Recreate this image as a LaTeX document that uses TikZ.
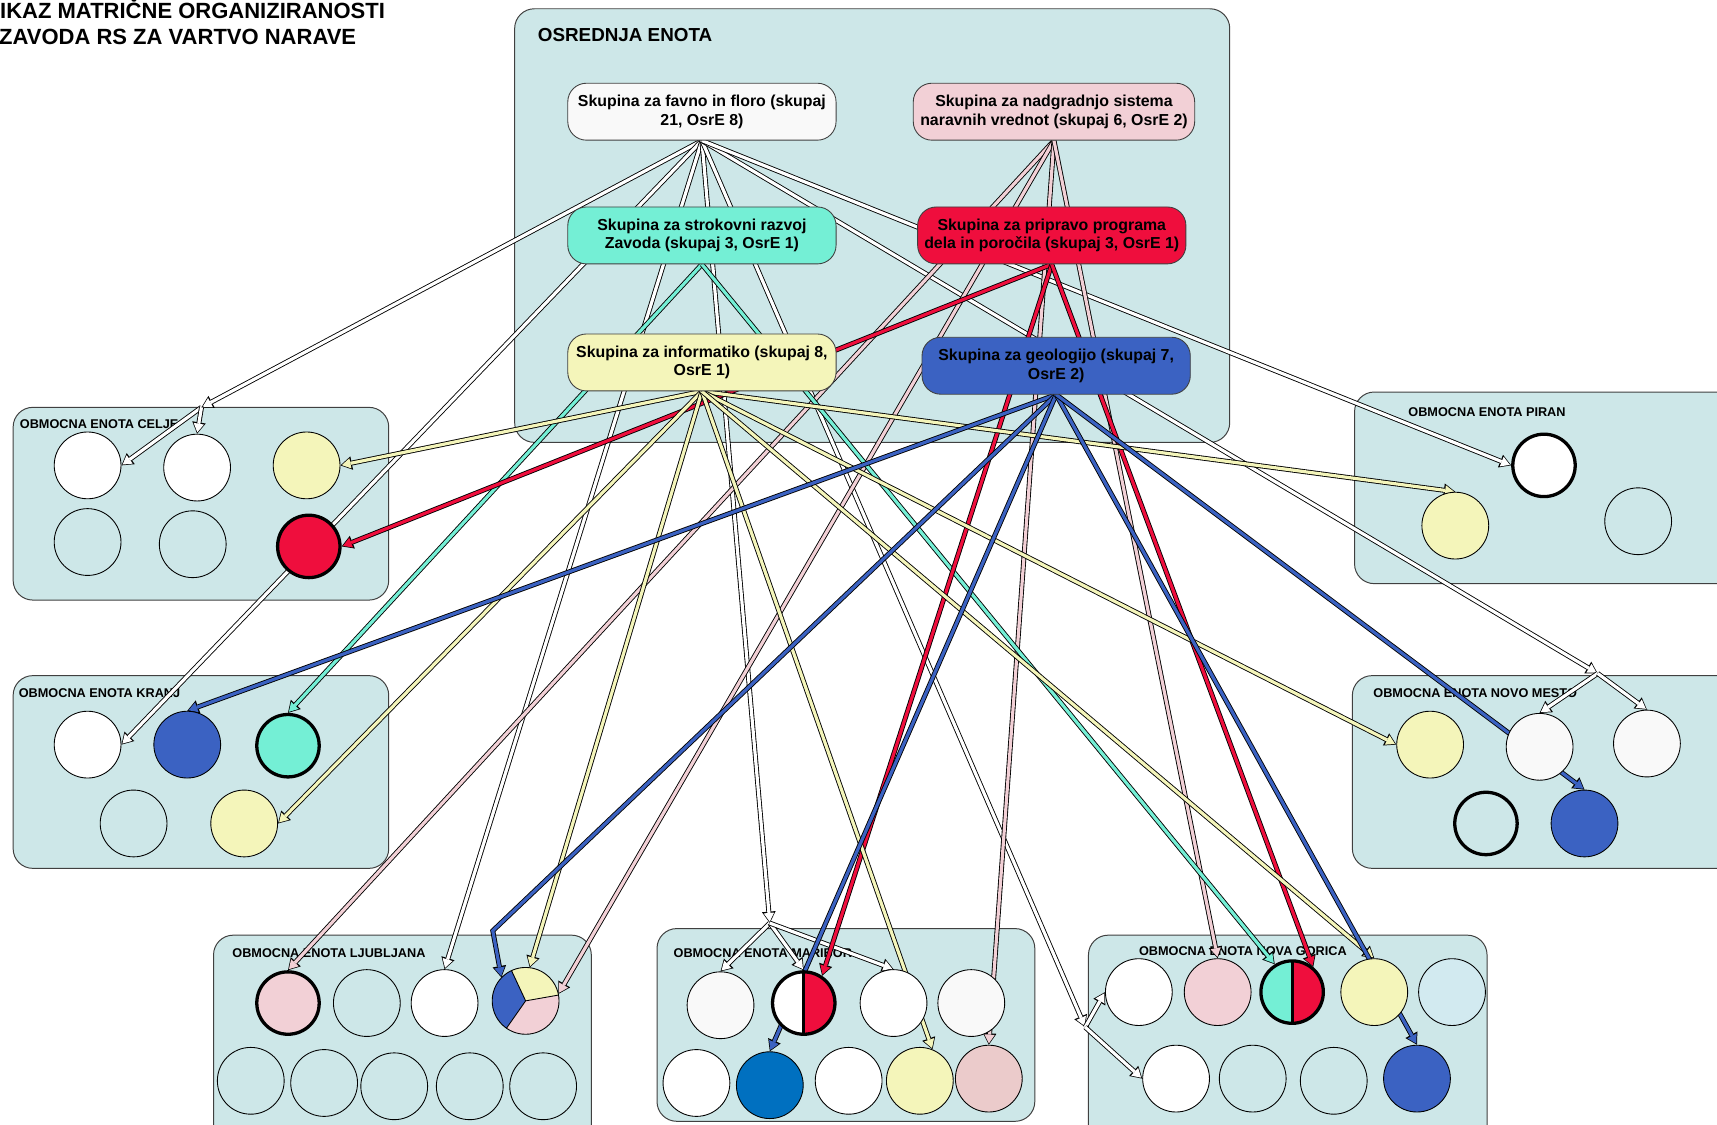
\documentclass[tikz,border=0pt]{standalone}
\usepackage{fontspec}
\setmainfont{Liberation Sans}
\usetikzlibrary{arrows.meta}
\pgfdeclarelayer{bg}
\pgfdeclarelayer{lines}
\pgfsetlayers{bg,lines,main}
\definecolor{regfill}{HTML}{CDE7E8}
\definecolor{coff}{HTML}{F9F9F9}
\definecolor{cyel}{HTML}{F4F5BA}
\definecolor{cred}{HTML}{EF0E3D}
\definecolor{caqua}{HTML}{74EFD5}
\definecolor{cblue}{HTML}{3B62C2}
\definecolor{cpink}{HTML}{F2D0D6}
\definecolor{cdblue}{HTML}{0070C0}
\definecolor{cpinkb}{HTML}{EBCBCB}
\definecolor{clblue}{HTML}{D2EAF0}
\definecolor{edgec}{HTML}{404040}
\tikzset{
  region/.style={draw=edgec, line width=0.9pt, fill=regfill, rounded corners=18pt},
  reglabel/.style={anchor=west, inner sep=0pt, font=\fontsize{11.6}{13}\selectfont\bfseries},
  group/.style={draw=edgec, line width=0.8pt, fill=#1, rounded corners=17pt, minimum width=245pt,
    minimum height=52pt, align=center, inner sep=2pt, font=\fontsize{14.5}{17}\selectfont\bfseries},
  unit/.style={circle, draw=black, line width=0.8pt, fill=#1, minimum size=61pt, inner sep=0pt},
  unitk/.style={circle, draw=black, line width=3pt, fill=#1, minimum size=57pt, inner sep=0pt},
  unitx/.style={circle, draw=none, minimum size=57pt, inner sep=0pt, outer sep=1.5pt},
  conn/.style={draw=#1, line width=2.9pt, shorten >=1.3pt,
    -{Triangle[length=8pt,width=9.5pt,line width=0pt]},
    preaction={draw=black, line width=4.5pt, shorten >=0pt,
      -{Triangle[length=10.5pt,width=12.5pt,line width=0pt]}}},
}
\begin{document}
\begin{tikzpicture}[x=1pt, y=-1pt]
\useasboundingbox (0,0) rectangle (1568,1027);

% ---------- title ----------
\node[anchor=base west, inner sep=0pt, font=\fontsize{20.1}{24}\selectfont\bfseries] (title1) at (0,17) {IKAZ MATRIČNE ORGANIZIRANOSTI};
\node[anchor=base west, inner sep=0pt, font=\fontsize{20.1}{24}\selectfont\bfseries] (title2) at (-1,41) {ZAVODA RS ZA VARTVO NARAVE};

% ---------- backgrounds ----------
\begin{pgfonlayer}{bg}
\draw[region] (470,8) rectangle (1123,404);
\node[anchor=west, inner sep=0pt, font=\fontsize{17.2}{20}\selectfont\bfseries] (osrlab) at (491,32) {OSREDNJA ENOTA};
\draw[region] (12,372) rectangle (355,548);
\node[reglabel] (celab) at (18,387) {OBMOCNA ENOTA CELJE};
\draw[region] (12,617) rectangle (355,793);
\node[reglabel] (krlab) at (17,633) {OBMOCNA ENOTA KRANJ};
\draw[region] (1237,358) rectangle (1600,533);
\node[reglabel] (pilab) at (1286,376) {OBMOCNA ENOTA PIRAN};
\draw[region] (1235,617) rectangle (1600,793);
\node[reglabel] (nmlab) at (1254,633) {OBMOCNA ENOTA NOVO MESTO};
\draw[region] (195,854) rectangle (540,1050);
\node[reglabel] (ljlab) at (212,870) {OBMOCNA ENOTA LJUBLJANA};
\draw[region] (600,848) rectangle (945,1024);
\node[reglabel] (mblab) at (615,870) {OBMOCNA ENOTA MARIBOR};
\draw[region] (994,854) rectangle (1358,1050);
\node[reglabel] (nglab) at (1040,869) {OBMOCNA ENOTA NOVA GORICA};
\end{pgfonlayer}

% ---------- group nodes ----------
\node[group=coff] (favno) at (641,102) {Skupina za favno in floro (skupaj\\21, OsrE 8)};
\node[group=cpink, minimum width=257pt] (nadg) at (962.5,102) {Skupina za nadgradnjo sistema\\naravnih vrednot (skupaj 6, OsrE 2)};
\node[group=caqua] (strok) at (641,215) {Skupina za strokovni razvoj\\Zavoda (skupaj 3, OsrE 1)};
\node[group=cred] (pripr) at (960.5,215) {Skupina za pripravo programa\\dela in poročila (skupaj 3, OsrE 1)};
\node[group=cyel] (inform) at (641,331) {Skupina za informatiko (skupaj 8,\\OsrE 1)};
\node[group=cblue] (geol) at (964.5,334) {Skupina za geologijo (skupaj 7,\\OsrE 2)};

% ---------- unit circles ----------
% Celje
\node[unit=white] (ce1) at (80,425) {};
\node[unit=white] (ce2) at (180,427) {};
\node[unit=cyel] (ce3) at (280,425) {};
\node[unit=regfill] (ce4) at (80,495) {};
\node[unit=regfill] (ce5) at (176,497) {};
\node[unitk=cred] (ce6) at (282,499) {};
% Kranj
\node[unit=white] (kr1) at (80,680) {};
\node[unit=cblue] (kr2) at (171,680) {};
\node[unitk=caqua] (kr3) at (263,681) {};
\node[unit=regfill] (kr4) at (122,752) {};
\node[unit=cyel] (kr5) at (223,752) {};
% Piran
\node[unitk=white] (pi1) at (1410,425) {};
\node[unit=cyel] (pi2) at (1329,480) {};
\node[unit=regfill] (pi3) at (1496,476) {};
% Novo mesto
\node[unit=cyel] (nm1) at (1306,680) {};
\node[unit=coff] (nm2) at (1406,682) {};
\node[unit=coff] (nm3) at (1504,679) {};
\node[unitk=regfill] (nm4) at (1357,752) {};
\node[unit=cblue] (nm5) at (1447,752) {};
% Ljubljana
\node[unitk=cpink] (lj1) at (263,916) {};
\node[unit=regfill] (lj2) at (335,916) {};
\node[unit=white] (lj3) at (406,916) {};
\node[circle, draw=none, minimum size=61pt, inner sep=0pt] (lj4) at (480,914) {};
\node[unit=regfill] (lj5) at (229,987) {};
\node[unit=regfill] (lj6) at (296,989) {};
\node[unit=regfill] (lj7) at (360,992) {};
\node[unit=regfill] (lj8) at (429,992) {};
\node[unit=regfill] (lj9) at (496,992) {};
% Maribor
\node[unit=coff] (mb1) at (658,918) {};
\node[unitx] (mb2) at (734,916) {};
\node[unit=white] (mb3) at (816,916) {};
\node[unit=coff] (mb4) at (887,916) {};
\node[unit=white] (mb5) at (636,989) {};
\node[unit=cdblue] (mb6) at (703,991) {};
\node[unit=white] (mb7) at (775,987) {};
\node[unit=cyel] (mb8) at (840,987) {};
\node[unit=cpinkb] (mb9) at (903,985) {};
% Nova Gorica
\node[unit=white] (ng1) at (1040,906) {};
\node[unit=cpink] (ng2) at (1112,906) {};
\node[unitx] (ng3) at (1180,906) {};
\node[unit=cyel] (ng4) at (1255,906) {};
\node[unit=clblue] (ng5) at (1326,906) {};
\node[unit=white] (ng6) at (1074,985) {};
\node[unit=regfill] (ng7) at (1144,985) {};
\node[unit=regfill] (ng8) at (1218,987) {};
\node[unit=cblue] (ng9) at (1294,985) {};

% pie and half circles
\begin{scope}[shift={(lj4.center)}, x=1pt, y=1pt]
  \fill[cyel] (0,0) -- (10:30.5) arc[start angle=10, end angle=115, radius=30.5] -- cycle;
  \fill[cblue] (0,0) -- (115:30.5) arc[start angle=115, end angle=235, radius=30.5] -- cycle;
  \fill[cpink] (0,0) -- (235:30.5) arc[start angle=235, end angle=370, radius=30.5] -- cycle;
  \draw[line width=0.8pt] (0,0) -- (10:30.5) (0,0) -- (115:30.5) (0,0) -- (235:30.5);
  \draw[line width=0.8pt] (0,0) circle[radius=30.5];
\end{scope}
\begin{scope}[shift={(mb2.center)}, x=1pt, y=1pt]
  \fill[white] (0,0) circle[radius=28.5];
  \fill[cred] (90:28.5) arc[start angle=90, end angle=-90, radius=28.5] -- cycle;
  \draw[line width=2.5pt] (90:28.5) -- (-90:28.5);
  \draw[line width=3pt] (0,0) circle[radius=28.5];
\end{scope}
\begin{scope}[shift={(ng3.center)}, x=1pt, y=1pt]
  \fill[caqua] (0,0) circle[radius=28.5];
  \fill[cred] (90:28.5) arc[start angle=90, end angle=-90, radius=28.5] -- cycle;
  \draw[line width=2.5pt] (90:28.5) -- (-90:28.5);
  \draw[line width=3pt] (0,0) circle[radius=28.5];
\end{scope}

% branch points
\coordinate (bCe) at (184,372);
\coordinate (bMb) at (703,843);
\coordinate (bNg) at (991,938);
\coordinate (bNm) at (1459,615);
\coordinate (bLj) at (450,850);

% ---------- connectors ----------
\begin{pgfonlayer}{lines}
% favna in flora (white)
\draw[conn=white] (favno.south) -- (bCe);
\draw[conn=white] (bCe) -- (ce1.east);
\draw[conn=white] (bCe) -- (ce2.north);
\draw[conn=white] (favno.south) -- (kr1.east);
\draw[conn=white] (favno.south) -- (lj3.north);
\draw[conn=white] (favno.south) -- (bMb);
\draw[conn=white] (bMb) -- (mb1.north);
\draw[conn=white] (bMb) -- (mb2.north);
\draw[conn=white] (bMb) -- (mb3.north);
\draw[conn=white] (favno.south) -- (bNg);
\draw[conn=white] (bNg) -- (ng1.west);
\draw[conn=white] (bNg) -- (ng6.west);
\draw[conn=white] (favno.south) -- (bNm);
\draw[conn=white] (bNm) -- (nm2.north);
\draw[conn=white] (bNm) -- (nm3.north);
\draw[conn=white] (favno.south) -- (pi1.west);
% nadgradnja (pink)
\draw[conn=cpink] (nadg.south) -- (lj1.north);
\draw[conn=cpink] (nadg.south) -- (lj4.12);
\draw[conn=cpink] (nadg.south) -- (mb9.north);
\draw[conn=cpink] (nadg.south) -- (ng2.north);
% strokovni razvoj (aqua)
\draw[conn=caqua] (strok.south) -- (kr3.north);
\draw[conn=caqua] (strok.south) -- (ng3.122);
% priprava programa (red)
\draw[conn=cred] (pripr.south) -- (ce6.east);
\draw[conn=cred] (pripr.south) -- (mb2.56);
\draw[conn=cred] (pripr.south) -- (ng3.50);
% informatika (yellow)
\draw[conn=cyel] (inform.south) -- (ce3.east);
\draw[conn=cyel] (inform.south) -- (kr5.east);
\draw[conn=cyel] (inform.south) -- (lj4.83);
\draw[conn=cyel] (inform.south) -- (mb8.68);
\draw[conn=cyel] (inform.south) -- (pi2.north);
\draw[conn=cyel] (inform.south) -- (nm1.west);
\draw[conn=cyel] (inform.south) -- (ng4.north);
% geologija (blue)
\draw[conn=cblue] (geol.south) -- (kr2.north);
\draw[conn=cblue] (geol.south) -- (bLj) -- (lj4.136);
\draw[conn=cblue] (geol.south) -- (mb6.north);
\draw[conn=cblue] (geol.south) -- (ng9.north);
\draw[conn=cblue] (geol.south) -- (nm5.north);
\end{pgfonlayer}
\end{tikzpicture}
\end{document}
